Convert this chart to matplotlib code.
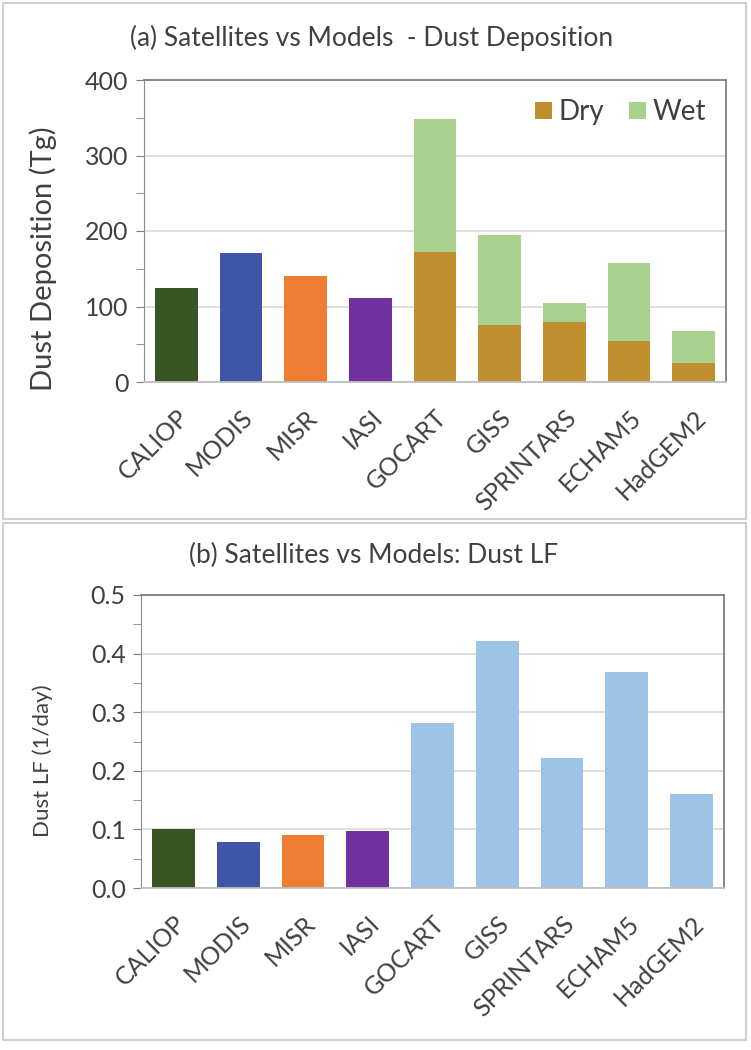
# Dust deposition and dust loss frequency: satellites vs models
import numpy as np
import matplotlib
matplotlib.use("Agg")
import matplotlib.pyplot as plt
from matplotlib.patches import Rectangle
from matplotlib.ticker import MultipleLocator, FormatStrFormatter

plt.rcParams['font.family'] = ['Lato', 'DejaVu Sans']

names = ["CALIOP", "MODIS", "MISR", "IASI", "GOCART", "GISS",
         "SPRINTARS", "ECHAM5", "HadGEM2"]
satellites = ["CALIOP", "MODIS", "MISR", "IASI"]
models = ["GOCART", "GISS", "SPRINTARS", "ECHAM5", "HadGEM2"]

# (a) deposition, Tg
sat_dep = [124, 171, 140, 111]
model_dry = [172, 76, 79, 54, 25]
model_total = [349, 195, 104, 158, 68]

# (b) dust LF, 1/day
sat_lf = [0.101, 0.079, 0.090, 0.098]
model_lf = [0.281, 0.421, 0.221, 0.369, 0.160]

sat_colors = ["#375623", "#3F55A7", "#ED7D31", "#7030A0"]
dry_color = "#BF8F2F"
wet_color = "#A9D18E"
lf_model_color = "#9DC3E6"
text_color = "#404040"

model_wet = [t - d for t, d in zip(model_total, model_dry)]

W, H = 751, 1050
fig = plt.figure(figsize=(W / 100, H / 100), dpi=100)

# panel frames (pixel boxes: left, top, right, bottom)
for l, t, r, b in [(3, 3, 746, 519), (3, 523, 746, 1040)]:
    fig.patches.append(Rectangle((l / W, 1 - b / H), (r - l) / W, (b - t) / H,
                                 transform=fig.transFigure, fill=False,
                                 edgecolor="#d0d0d0", lw=1.5))

x = np.arange(len(names))
xs = x[:len(satellites)]
xm = x[len(satellites):]
w = 0.66


def style_axes(ax):
    ax.set_xlim(-0.5, len(names) - 0.5)
    ax.grid(axis="y", color="#d9d9d9", lw=1.2)
    ax.set_axisbelow(True)
    for s in ["top", "right"]:
        ax.spines[s].set_color("#7f7f7f")
        ax.spines[s].set_linewidth(1.3)
    ax.spines["left"].set_color("#8c8c8c")
    ax.spines["bottom"].set_color("#bfbfbf")
    ax.spines["bottom"].set_linewidth(1.3)
    ax.tick_params(axis="y", which="both", direction="out", length=6,
                   color="#7f7f7f", labelsize=18, labelcolor=text_color, pad=5)
    ax.tick_params(axis="x", length=0, labelsize=18, labelcolor=text_color, pad=17)
    ax.set_xticks(x)
    ax.set_xticklabels(names, rotation=45, ha="right", rotation_mode="anchor")


# (a)
ax1 = fig.add_axes([144 / W, 1 - 382 / H, 582 / W, 302 / H])
ax1.bar(xs, sat_dep, width=w, color=sat_colors)
ax1.bar(xm, model_dry, width=w, color=dry_color, label="Dry")
ax1.bar(xm, model_wet, width=w, bottom=model_dry, color=wet_color, label="Wet")
style_axes(ax1)
ax1.set_ylim(0, 400)
ax1.yaxis.set_major_locator(MultipleLocator(100))
ax1.yaxis.set_minor_locator(MultipleLocator(50))
ax1.legend(loc="upper right", ncol=2, frameon=False, fontsize=20,
           labelcolor=text_color, handlelength=0.6, handleheight=0.6,
           handletextpad=0.25, columnspacing=0.9, borderaxespad=0.3)
fig.text(43 / W, 1 - 259 / H, "Dust Deposition (Tg)", rotation=90,
         ha="center", va="center", fontsize=21, color=text_color)
fig.text(372 / W, 1 - 38 / H, "(a) Satellites vs Models  - Dust Deposition",
         ha="center", va="center", fontsize=19, color=text_color)

# (b)
ax2 = fig.add_axes([141 / W, 1 - 888 / H, 583 / W, 293 / H])
ax2.bar(xs, sat_lf, width=w, color=sat_colors)
ax2.bar(xm, model_lf, width=w, color=lf_model_color)
style_axes(ax2)
ax2.set_ylim(0, 0.5)
ax2.yaxis.set_major_locator(MultipleLocator(0.1))
ax2.yaxis.set_minor_locator(MultipleLocator(0.05))
ax2.yaxis.set_major_formatter(FormatStrFormatter("%.1f"))
fig.text(43 / W, 1 - 761 / H, "Dust LF (1/day)", rotation=90,
         ha="center", va="center", fontsize=16, color=text_color)
fig.text(374 / W, 1 - 555 / H, "(b) Satellites vs Models: Dust LF",
         ha="center", va="center", fontsize=19, color=text_color)

fig.savefig("out.png", dpi=100)
